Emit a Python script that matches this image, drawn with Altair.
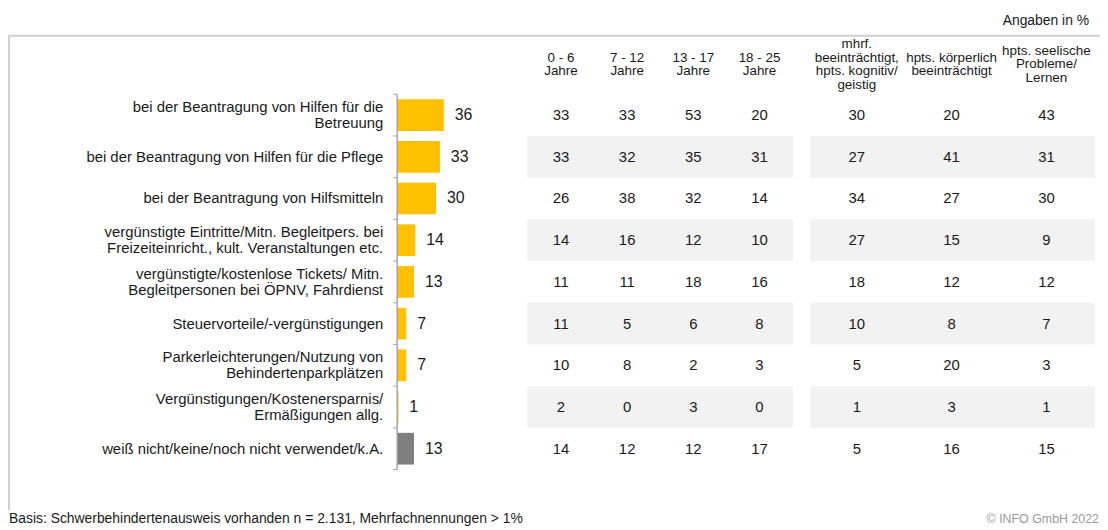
import altair as alt
import pandas as pd

FONT = "Liberation Sans, Arial, sans-serif"
TXT = "#1a1a1a"

# ---------------- data ----------------
labels = [
    "bei der Beantragung von Hilfen für die\nBetreuung",
    "bei der Beantragung von Hilfen für die Pflege",
    "bei der Beantragung von Hilfsmitteln",
    "vergünstigte Eintritte/Mitn. Begleitpers. bei\nFreizeiteinricht., kult. Veranstaltungen etc.",
    "vergünstigte/kostenlose Tickets/ Mitn.\nBegleitpersonen bei ÖPNV, Fahrdienst",
    "Steuervorteile/-vergünstigungen",
    "Parkerleichterungen/Nutzung von\nBehindertenparkplätzen",
    "Vergünstigungen/Kostenersparnis/\nErmäßigungen allg.",
    "weiß nicht/keine/noch nicht verwendet/k.A.",
]
totals = [36, 33, 30, 14, 13, 7, 7, 1, 13]
kinds = ["main"] * 8 + ["none"]

age_cols = ["0 - 6\nJahre", "7 - 12\nJahre", "13 - 17\nJahre", "18 - 25\nJahre"]
dis_cols = [
    "mhrf.\nbeeinträchtigt,\nhpts. kognitiv/\ngeistig",
    "hpts. körperlich\nbeeinträchtigt",
    "hpts. seelische\nProbleme/\nLernen",
]

age_0_6 = [33, 33, 26, 14, 11, 11, 10, 2, 14]
age_7_12 = [33, 32, 38, 16, 11, 5, 8, 0, 12]
age_13_17 = [53, 35, 32, 12, 18, 6, 2, 3, 12]
age_18_25 = [20, 31, 14, 10, 16, 8, 3, 0, 17]
dis_kognitiv = [30, 27, 34, 27, 18, 10, 5, 1, 5]
dis_koerper = [20, 41, 27, 15, 12, 8, 20, 3, 16]
dis_seelisch = [43, 31, 30, 9, 12, 7, 3, 1, 15]

unit_note = "Angaben in %"
footer_note = "Basis: Schwerbehindertenausweis vorhanden n = 2.131, Mehrfachnennungen > 1%"
copyright_note = "© INFO GmbH 2022"

# ---------------- tables ----------------
bars_df = pd.DataFrame({"label": labels, "total": totals, "kind": kinds,
                        "row": list(range(len(labels)))})

rows = []
for col, vals in zip(age_cols, [age_0_6, age_7_12, age_13_17, age_18_25]):
    for i, v in enumerate(vals):
        rows.append({"col": col, "grp": "age", "row": i, "value": v})
for col, vals in zip(dis_cols, [dis_kognitiv, dis_koerper, dis_seelisch]):
    for i, v in enumerate(vals):
        rows.append({"col": col, "grp": "dis", "row": i, "value": v})
table_df = pd.DataFrame(rows)

hdr_df = pd.DataFrame({"col": age_cols + dis_cols,
                       "grp": ["age"] * len(age_cols) + ["dis"] * len(dis_cols)})

# ---------------- scales ----------------
STEP = 42.0  # px per row
Y = alt.Scale(domain=[-0.5, len(labels) - 0.5], range=[85, 463], zero=False, nice=False)
XB = alt.Scale(domain=[0, 100], range=[392, 522.6], zero=True, nice=False)
XA = alt.Scale(type="point", domain=age_cols, range=[557, 757], padding=0)
XD = alt.Scale(type="point", domain=dis_cols, range=[855, 1046], padding=0)

LBL_LH = 16
HDR_LH = 14
HDR_ROW = -1.214  # header block centre, in row units

base = alt.Chart(bars_df)

# grey alternating row bands
band_src = base.transform_filter("datum.row % 2 == 1").transform_calculate(
    lo="datum.row - 0.5", hi="datum.row + 0.5")
band_left = band_src.mark_rect(color="#F2F2F2").encode(
    x=alt.value(523), x2=alt.value(791),
    y=alt.Y("lo:Q", scale=Y, axis=None), y2="hi:Q")
band_right = band_src.mark_rect(color="#F2F2F2").encode(
    x=alt.value(808), x2=alt.value(1095),
    y=alt.Y("lo:Q", scale=Y, axis=None), y2="hi:Q")

# bars
bars = base.transform_calculate(lo="datum.row - 0.38", hi="datum.row + 0.38").mark_rect().encode(
    x=alt.X("total:Q", scale=XB, axis=None),
    x2=alt.datum(0),
    y=alt.Y("lo:Q", scale=Y, axis=None), y2="hi:Q",
    color=alt.Color("kind:N", scale=alt.Scale(domain=["main", "none"],
                                              range=["#FFC000", "#7F7F7F"]), legend=None),
)

bar_labels = base.mark_text(align="left", baseline="middle", dx=11, fontSize=16,
                            font=FONT, color=TXT).encode(
    x=alt.X("total:Q", scale=XB, axis=None),
    y=alt.Y("row:Q", scale=Y, axis=None),
    text="total:Q",
)

# category axis (line + ticks)
bounds = base.transform_calculate(a="datum.row - 0.5", b="datum.row + 0.5").transform_fold(
    ["a", "b"]).transform_aggregate(n="count()", groupby=["value"])
axis_ticks = bounds.mark_rule(color="#A6A6A6", strokeWidth=1).encode(
    x=alt.value(388), x2=alt.value(392),
    y=alt.Y("value:Q", scale=Y, axis=None))
axis_line = bounds.transform_aggregate(lo="min(value)", hi="max(value)").mark_rule(
    color="#A6A6A6", strokeWidth=1.5).encode(
    x=alt.value(392), y=alt.Y("lo:Q", scale=Y, axis=None), y2="hi:Q")

cat_labels = base.transform_calculate(
    ly=f"datum.row - (length(split(datum.label, '\\n')) - 1) * {LBL_LH / 2 / STEP}"
).mark_text(align="right", baseline="middle", fontSize=15, lineHeight=LBL_LH,
            lineBreak="\n", font=FONT, color=TXT).encode(
    x=alt.value(378),
    y=alt.Y("ly:Q", scale=Y, axis=None),
    text="label:N",
)

# table numbers
tbl_age = alt.Chart(table_df).transform_filter("datum.grp == 'age'").mark_text(
    fontSize=15, font=FONT, color=TXT, baseline="middle").encode(
    x=alt.X("col:N", scale=XA, axis=None),
    y=alt.Y("row:Q", scale=Y, axis=None),
    text="value:Q")
tbl_dis = alt.Chart(table_df).transform_filter("datum.grp == 'dis'").mark_text(
    fontSize=15, font=FONT, color=TXT, baseline="middle").encode(
    x=alt.X("col:N", scale=XD, axis=None),
    y=alt.Y("row:Q", scale=Y, axis=None),
    text="value:Q")

# column headers (multi-line, vertically centred)
hy_expr = f"{HDR_ROW} - (length(split(datum.col, '\\n')) - 1) * {HDR_LH / 2 / STEP}"
hdr_age = alt.Chart(hdr_df).transform_filter("datum.grp == 'age'").transform_calculate(
    hy=hy_expr).mark_text(
    fontSize=13.5, lineHeight=HDR_LH, lineBreak="\n", font=FONT, color=TXT,
    baseline="middle").encode(
    x=alt.X("col:N", scale=XA, axis=None), y=alt.Y("hy:Q", scale=Y, axis=None),
    text="col:N")
hdr_dis = alt.Chart(hdr_df).transform_filter("datum.grp == 'dis'").transform_calculate(
    hy=hy_expr).mark_text(
    fontSize=13.5, lineHeight=HDR_LH, lineBreak="\n", font=FONT, color=TXT,
    baseline="middle").encode(
    x=alt.X("col:N", scale=XD, axis=None), y=alt.Y("hy:Q", scale=Y, axis=None),
    text="col:N")

# frame + notes
one = pd.DataFrame({"t": [unit_note]})
frame_h = alt.Chart(one).mark_rule(color="#D0D0D0", strokeWidth=2).encode(
    x=alt.value(1), x2=alt.value(1100), y=alt.value(26))
frame_v = alt.Chart(one).mark_rule(color="#D0D0D0", strokeWidth=2).encode(
    x=alt.value(1), y=alt.value(26), y2=alt.value(504))
unit_txt = alt.Chart(one).mark_text(align="right", baseline="middle", fontSize=14,
                                    font=FONT, color=TXT).encode(
    x=alt.value(1089), y=alt.value(11), text="t:N")
foot_txt = alt.Chart(pd.DataFrame({"t": [footer_note]})).mark_text(
    align="left", baseline="middle", fontSize=14, font=FONT, color=TXT).encode(
    x=alt.value(1), y=alt.value(513), text="t:N")
copy_txt = alt.Chart(pd.DataFrame({"t": [copyright_note]})).mark_text(
    align="right", baseline="middle", fontSize=12.5, font=FONT, color="#9A9A9A").encode(
    x=alt.value(1099), y=alt.value(513), text="t:N")

chart = alt.layer(
    band_left, band_right, bars, bar_labels, axis_ticks, axis_line, cat_labels,
    tbl_age, tbl_dis, hdr_age, hdr_dis, frame_h, frame_v, unit_txt, foot_txt, copy_txt,
).resolve_scale(x="independent").properties(
    width=1100, height=522, padding=0,
    autosize=alt.AutoSizeParams(type="none"),
).configure_view(stroke=None)

chart.save("out.html", embed_options={"renderer": "svg", "actions": False})
